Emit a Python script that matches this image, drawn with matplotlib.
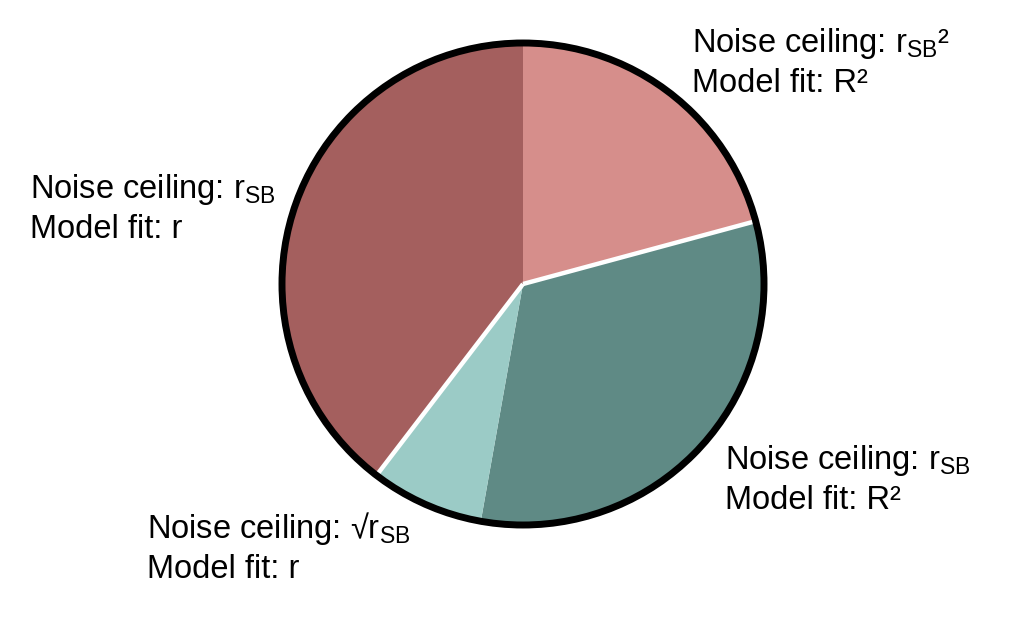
import matplotlib
matplotlib.use("Agg")
import matplotlib.pyplot as plt
import numpy as np
from matplotlib.patches import Circle

plt.rcParams["font.family"] = ["Liberation Sans", "DejaVu Sans"]
plt.rcParams["mathtext.fontset"] = "custom"
plt.rcParams["mathtext.rm"] = "Liberation Sans"
plt.rcParams["mathtext.it"] = "Liberation Sans:italic"

# slice shares, clockwise from 12 o'clock
shares = [20.8, 32.0, 7.6, 39.6]
colors = ["#D68E8B", "#5F8A85", "#9BCBC6", "#A45F5E"]

labels = [
    ("Noise ceiling: r$_{\\mathrm{SB}}$²", "Model fit: R²"),
    ("Noise ceiling: r$_{\\mathrm{SB}}$", "Model fit: R²"),
    ("Noise ceiling: √r$_{\\mathrm{SB}}$", "Model fit: r"),
    ("Noise ceiling: r$_{\\mathrm{SB}}$", "Model fit: r"),
]
# label anchor (left x, first baseline y) in pixels from top-left
label_pos = [(692, 52), (725, 469), (147, 538), (30, 198)]

W, H = 1018, 630
cx, cy, r = 523, 284, 241

fig = plt.figure(figsize=(W / 100, H / 100), dpi=100)
ax = fig.add_axes([0, 0, 1, 1])

ax.pie(shares, colors=colors, startangle=90, counterclock=False,
       center=(cx, H - cy), radius=r, frame=True,
       wedgeprops=dict(linewidth=0))
ax.set_xlim(0, W)
ax.set_ylim(0, H)
ax.axis("off")

# white separators between the pink group and the teal group
ang = 90.0
bounds = []
for s in shares:
    ang -= s * 3.6
    bounds.append(ang)
for a in (bounds[0], bounds[2]):
    t = np.deg2rad(a)
    ax.plot([cx, cx + r * np.cos(t)], [H - cy, H - cy + r * np.sin(t)],
            color="white", lw=3.2, solid_capstyle="butt", zorder=3)

ax.add_patch(Circle((cx, H - cy), r, fill=False, edgecolor="black",
                    lw=5, zorder=4))

for (l1, l2), (x, y) in zip(labels, label_pos):
    ax.text(x, H - y, l1, fontsize=23.5, va="baseline", ha="left")
    ax.text(x, H - y - 40, l2, fontsize=23.5, va="baseline", ha="left")

fig.savefig("out.png", dpi=100)
